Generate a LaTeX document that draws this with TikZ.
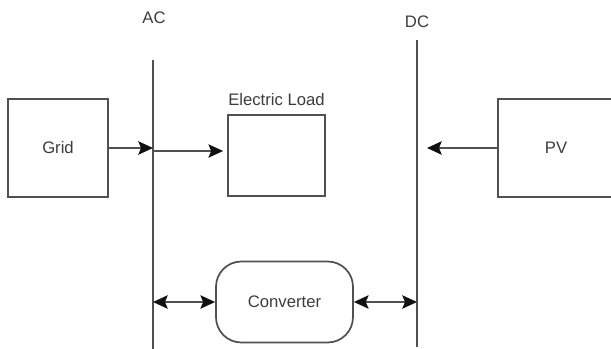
\documentclass[tikz,border=0pt]{standalone}
\usepackage{fontspec}
\setmainfont{Liberation Sans}
\usetikzlibrary{arrows.meta,positioning}

\definecolor{linegray}{HTML}{505050}
\definecolor{textgray}{HTML}{3C3C3C}
\definecolor{tipblack}{HTML}{111111}

\begin{document}
\begin{tikzpicture}[
    x=0.75pt, y=-0.75pt,
    font=\fontsize{12.5}{15}\selectfont, text=textgray,
    block/.style={draw=linegray, line width=1.3pt, inner sep=0pt, minimum width=75pt, minimum height=73.5pt},
    bus/.style={draw=linegray, line width=1.3pt},
    arrow/.style={-{Stealth[length=11pt,width=10pt,inset=2pt,color=tipblack]}, draw=linegray, line width=1.4pt},
    dblarrow/.style={{Stealth[length=11pt,width=10pt,inset=2pt,color=tipblack]}-{Stealth[length=11pt,width=10pt,inset=2pt,color=tipblack]}, draw=linegray, line width=1.4pt},
]
    \useasboundingbox (0,0) rectangle (611,349);

    % buses
    \coordinate (acTop) at (153,60);
    \coordinate (acBot) at (153,349);
    \coordinate (dcTop) at (417,40);
    \coordinate (dcBot) at (417,347);
    \draw[bus] (acTop) -- (acBot);
    \draw[bus] (dcTop) -- (dcBot);
    \node (aclabel) at (154,18) {AC};
    \node (dclabel) at (417,22) {DC};

    % blocks
    \node[block] (grid) at (58,148) {Grid};
    \node[block, minimum width=72.75pt, minimum height=60.75pt] (load) at (276.5,155.5) {};
    \node[above=2.5pt of load] (loadlabel) {Electric Load};
    \node[block, minimum width=87pt] (pv) at (556,148) {PV};
    \node[block, rounded corners=19pt, minimum width=102.75pt, minimum height=60.75pt] (conv) at (284.5,302) {Converter};

    % flows
    \coordinate (loadIn) at ([yshift=3.375pt,xshift=-3pt]load.west);
    \draw[arrow] (grid.east) -- (grid.east -| acTop);
    \draw[arrow] (acTop |- loadIn) -- (loadIn);
    \draw[arrow] (pv.west) -- ([xshift=7.5pt]pv.west -| dcTop);
    \draw[dblarrow] (acTop |- conv.west) -- (conv.west);
    \draw[dblarrow] (conv.east) -- (conv.east -| dcTop);
\end{tikzpicture}
\end{document}
